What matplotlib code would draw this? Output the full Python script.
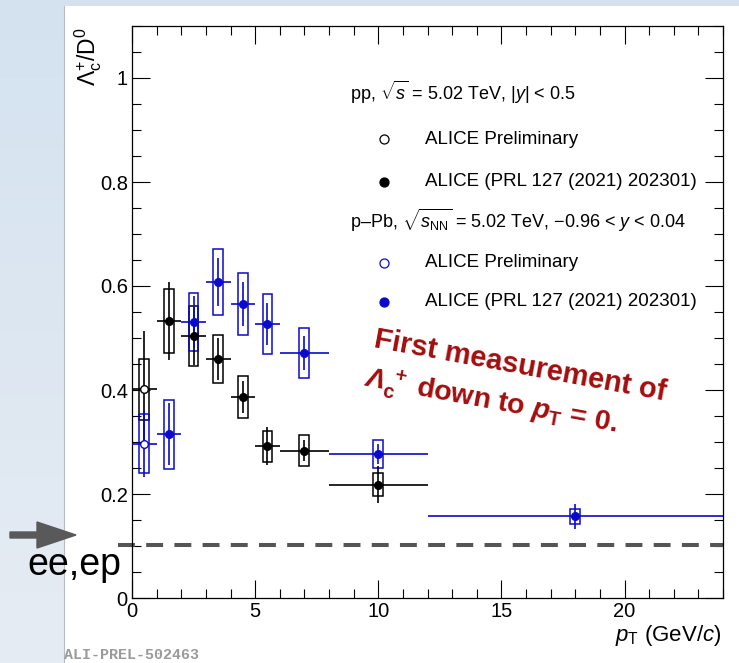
import numpy as np
import matplotlib
matplotlib.use('Agg')
import matplotlib.pyplot as plt
from matplotlib.patches import Rectangle, Polygon
from matplotlib.ticker import MultipleLocator, FuncFormatter

plt.rcParams['font.family'] = ['Liberation Sans', 'DejaVu Sans']
plt.rcParams['mathtext.fontset'] = 'custom'
plt.rcParams['mathtext.rm'] = 'Liberation Sans'
plt.rcParams['mathtext.it'] = 'Liberation Sans:italic'
plt.rcParams['mathtext.bf'] = 'Liberation Sans:bold'
plt.rcParams['mathtext.bfit'] = 'Liberation Sans:italic:bold'

# --- data ---
# pp, ALICE Preliminary (open black)
pp_prel_x = [0.5]
pp_prel_xw = [0.5]
pp_prel_y = [0.401]
pp_prel_stat = [0.113]
pp_prel_sys = [0.059]

# pp, PRL 127 (2021) 202301 (filled black)
pp_x = [1.5, 2.5, 3.5, 4.5, 5.5, 7.0, 10.0]
pp_xw = [0.5, 0.5, 0.5, 0.5, 0.5, 1.0, 2.0]
pp_y = [0.533, 0.504, 0.460, 0.386, 0.292, 0.283, 0.218]
pp_stat = [0.075, 0.055, 0.040, 0.031, 0.037, 0.020, 0.036]
pp_sys = [0.061, 0.058, 0.046, 0.040, 0.030, 0.030, 0.022]

# p-Pb, ALICE Preliminary (open blue)
ppb_prel_x = [0.5]
ppb_prel_xw = [0.5]
ppb_prel_y = [0.297]
ppb_prel_stat = [0.064]
ppb_prel_sys = [0.056]

# p-Pb, PRL 127 (2021) 202301 (filled blue)
ppb_x = [1.5, 2.5, 3.5, 4.5, 5.5, 7.0, 10.0, 18.0]
ppb_xw = [0.5, 0.5, 0.5, 0.5, 0.5, 1.0, 2.0, 6.0]
ppb_y = [0.315, 0.531, 0.608, 0.565, 0.527, 0.471, 0.277, 0.157]
ppb_stat = [0.060, 0.050, 0.046, 0.042, 0.040, 0.032, 0.020, 0.024]
ppb_sys = [0.066, 0.056, 0.064, 0.060, 0.058, 0.048, 0.027, 0.014]

ee_ep_level = 0.101

BLUE = '#0a0acc'
W, H = 739, 663


def px(x, y):
    return x / W, 1 - y / H


def draw_set(ax, x, xw, y, stat, sys, color, filled):
    for xi, yi, si in zip(x, y, sys):
        ax.add_patch(Rectangle((xi - 0.2, yi - si), 0.4, 2 * si, fill=False,
                               ec=color, lw=1.1, zorder=3))
    ax.errorbar(x, y, xerr=xw, yerr=stat, fmt='o', color=color,
                mfc=color if filled else 'white', mec=color, ms=5.5, mew=1.0,
                elinewidth=1.2, capsize=0, zorder=4)


fig = plt.figure(figsize=(W / 100, H / 100), dpi=100)
fig.patch.set_facecolor('white')

# slide background
bg = fig.add_axes([0, 0, 1, 1], zorder=-10)
bg.set_xlim(0, W)
bg.set_ylim(H, 0)
bg.axis('off')
grad = np.linspace(0, 1, 200)[:, None]
bg.imshow(grad, extent=[0, 64, H, 0], cmap=matplotlib.colors.LinearSegmentedColormap.from_list(
    'strip', ['#d4e2f0', '#e6ecf3']), aspect='auto')
bg.add_patch(Rectangle((0, 0), W, 6, color='#d4e2f0', lw=0))
bg.plot([64, 64], [6, H], color='#b8bcc2', lw=0.8)

ax = fig.add_axes([132 / W, 1 - 598 / H, (723 - 132) / W, (598 - 26) / H])
ax.set_xlim(0, 24)
ax.set_ylim(0, 1.1)

draw_set(ax, pp_x, pp_xw, pp_y, pp_stat, pp_sys, 'black', True)
draw_set(ax, pp_prel_x, pp_prel_xw, pp_prel_y, pp_prel_stat, pp_prel_sys, 'black', False)
draw_set(ax, ppb_x, ppb_xw, ppb_y, ppb_stat, ppb_sys, BLUE, True)
draw_set(ax, ppb_prel_x, ppb_prel_xw, ppb_prel_y, ppb_prel_stat, ppb_prel_sys, BLUE, False)

# ee,ep reference
ax.plot([-0.57, 24], [ee_ep_level, ee_ep_level], color='#555555', lw=2.9,
        ls=(0, (4.2, 2.8)), clip_on=False, zorder=2)

ax.xaxis.set_major_locator(MultipleLocator(5))
ax.xaxis.set_minor_locator(MultipleLocator(1))
ax.yaxis.set_major_locator(MultipleLocator(0.2))
ax.yaxis.set_minor_locator(MultipleLocator(0.05))
ax.yaxis.set_major_formatter(FuncFormatter(lambda v, p: '%g' % round(v, 2)))
ax.tick_params(which='both', direction='in', top=True, right=True, width=0.8)
ax.tick_params(which='major', length=13, labelsize=14.5)
ax.tick_params(which='minor', length=6.5)
ax.tick_params(axis='y', pad=3)
ax.tick_params(axis='x', pad=3)
for s in ax.spines.values():
    s.set_linewidth(0.9)

fig.text(*px(88, 27), r'$\Lambda_{\mathrm{c}}^{+}$/D$^{0}$', rotation=90,
         ha='center', va='top', fontsize=16.5)
fig.text(*px(721, 641), r'$p_{\mathrm{T}}$ (GeV/$c$)', ha='right',
         va='baseline', fontsize=16)

# legend
fs = 13
fig.text(*px(350, 100), r'pp, $\sqrt{s}$ = 5.02 TeV, |$y$| < 0.5', fontsize=fs, va='baseline')
fig.text(*px(350, 228), r'p–Pb, $\sqrt{s_{\mathrm{NN}}}$ = 5.02 TeV, $-$0.96 < $y$ < 0.04',
         fontsize=fs, va='baseline')
entries = [(139, 'black', False, 'ALICE Preliminary'),
           (182, 'black', True, 'ALICE (PRL 127 (2021) 202301)'),
           (263, BLUE, False, 'ALICE Preliminary'),
           (302, BLUE, True, 'ALICE (PRL 127 (2021) 202301)')]
for yy, col, filled, lab in entries:
    fx, fy = px(384, yy)
    fig.lines.append(plt.Line2D([fx], [fy], marker='o', ms=6.5, mew=0.9, color=col,
                                mfc=col if filled else 'white', transform=fig.transFigure))
    fig.text(*px(425, yy), lab, fontsize=13.5, va='center')

# annotation
red = '#a30d0d'
fig.text(*px(373, 347), 'First measurement of', rotation=-10.4, rotation_mode='anchor',
         ha='left', va='baseline', color=red, fontsize=21, fontweight='bold')
fig.text(*px(363, 386), r'$\mathbfit{\Lambda}_{\mathbf{c}}^{\mathbf{\ +}}$ down to $\mathbfit{p}_{\mathbf{T}}$ = 0.',
         rotation=-10.4, rotation_mode='anchor', ha='left', va='baseline',
         color=red, fontsize=20.5, fontweight='bold')

# arrow and ee,ep label
arrow_pts = [(10, 532), (37, 532), (37, 522), (76, 535), (37, 548), (37, 538), (10, 538)]
fig.add_artist(Polygon([px(a, b) for a, b in arrow_pts], closed=True,
                       color='#595959', transform=fig.transFigure))
fig.text(*px(27, 575), 'ee,ep', fontsize=27, va='baseline')

fig.text(*px(64, 655), 'ALI-PREL-502463', family='Liberation Mono', fontweight='bold',
         fontsize=10.8, color='#9a9a9a', va='center')

fig.savefig('out.png', dpi=100)
